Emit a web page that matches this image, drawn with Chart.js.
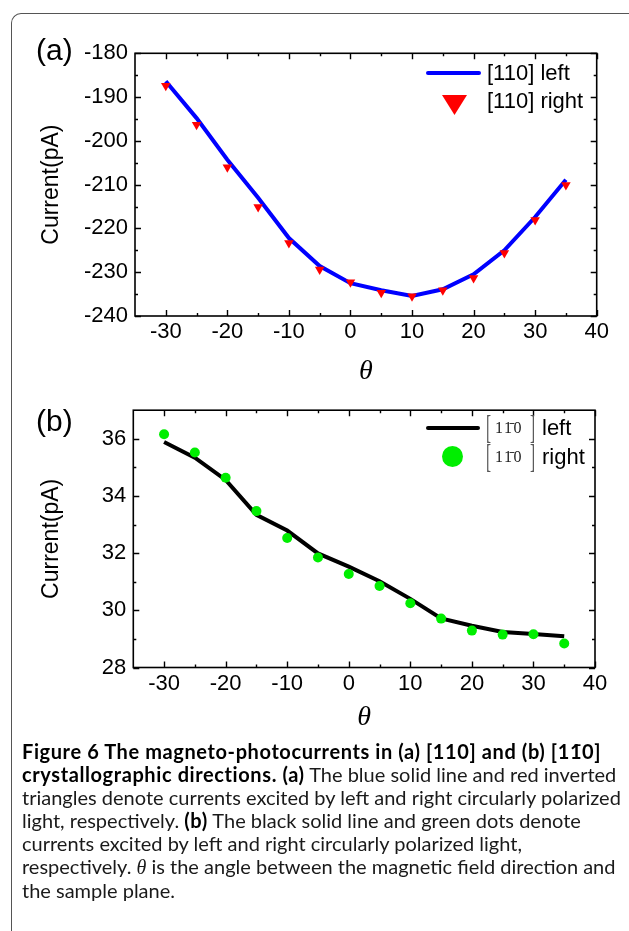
<!DOCTYPE html>
<html>
<head>
<meta charset="utf-8">
<script src="https://cdn.jsdelivr.net/npm/chart.js@4.4.1/dist/chart.umd.min.js"></script>
<style>
html,body{margin:0;padding:0;background:#fff;}
body{width:629px;height:931px;position:relative;overflow:hidden;font-family:"Liberation Sans",Arial,sans-serif;color:#000;}
.frame{position:absolute;left:11px;top:13px;width:700px;height:1000px;border-left:1.5px solid #555;border-top:1.5px solid #555;border-top-left-radius:10px;box-sizing:border-box;}
canvas{position:absolute;left:0;}
.plabel{position:absolute;left:36px;font-size:30px;line-height:34px;}
.leg{position:absolute;font-size:22px;line-height:26px;white-space:nowrap;}
.sym{position:absolute;}
.br{position:absolute;font-family:"Liberation Serif",serif;font-size:34px;line-height:34px;color:#555;transform:scaleX(0.45);transform-origin:left center;}
.mi{position:absolute;font-family:"Liberation Serif",serif;font-size:16px;line-height:18px;letter-spacing:1.5px;color:#222;}
.caption{position:absolute;left:22px;top:740px;font-family:Lato,"Open Sans",sans-serif;font-size:20px;line-height:23px;color:#1a1a1a;white-space:nowrap;}
.caption b{color:#000;letter-spacing:0.6px;}
.caption i{font-family:"Liberation Serif",serif;}
</style>
</head>
<body>
<div class="frame"></div>
<canvas id="chartA" width="629" height="390" style="top:0"></canvas>
<canvas id="chartB" width="629" height="350" style="top:390px"></canvas>

<div class="plabel" style="top:33px">(a)</div>
<div class="plabel" style="top:404px">(b)</div>

<!-- legend (a) -->
<div class="sym" style="left:426px;top:71px;width:55px;height:4px;background:#0000ff;border-radius:2px"></div>
<div class="leg" style="left:487px;top:60px">[110] left</div>
<svg class="sym" style="left:442px;top:95px" width="25" height="20"><polygon points="0,0 25,0 12.5,20" fill="#ff0000"/></svg>
<div class="leg" style="left:487px;top:88px">[110] right</div>

<!-- legend (b) -->
<div class="sym" style="left:426px;top:426px;width:54px;height:4px;background:#000;border-radius:2px"></div>
<div class="br" style="left:486px;top:410px">[</div>
<div class="mi" style="left:495px;top:419px">11&#772;0</div>
<div class="br" style="left:530px;top:410px">]</div>
<div class="leg" style="left:542px;top:415px">left</div>
<div class="sym" style="left:442px;top:446px;width:21px;height:21px;border-radius:50%;background:#00ee00"></div>
<div class="br" style="left:486px;top:439px">[</div>
<div class="mi" style="left:495px;top:448px">11&#772;0</div>
<div class="br" style="left:530px;top:439px">]</div>
<div class="leg" style="left:542px;top:444px">right</div>

<div class="caption">
<b>Figure 6 The magneto-photocurrents in (a) [110] and (b) [11&#772;0]</b><br>
<b>crystallographic directions. (a)</b> The blue solid line and red inverted<br>
triangles denote currents excited by left and right circularly polarized<br>
light, respectively. <b>(b)</b> The black solid line and green dots denote<br>
currents excited by left and right circularly polarized light,<br>
respectively. <i>θ</i> is the angle between the magnetic field direction and<br>
the sample plane.
</div>

<script>
// ---- data ----
const THETA = [-30, -25, -20, -15, -10, -5, 0, 5, 10, 15, 20, 25, 30, 35];

// panel (a): [110]
const LEFT_110  = [-186.4, -194.8, -204.3, -213.0, -222.2, -228.6, -232.5, -234.1, -235.4, -233.9, -230.5, -225.0, -217.4, -208.9];
const RIGHT_110 = [-187.4, -196.3, -206.0, -215.1, -223.3, -229.4, -232.3, -234.7, -235.5, -234.1, -231.3, -225.6, -218.1, -210.1];

// panel (b): [1-10]
const LEFT_1M10  = [35.89, 35.34, 34.56, 33.34, 32.79, 31.99, 31.53, 31.02, 30.40, 29.72, 29.46, 29.24, 29.17, 29.09];
const RIGHT_1M10 = [36.16, 35.52, 34.64, 33.47, 32.53, 31.85, 31.27, 30.85, 30.25, 29.71, 29.29, 29.15, 29.16, 28.84];

// tick labels
const X_TICKS   = [-30, -20, -10, 0, 10, 20, 30, 40];
const Y_TICKS_A = [-240, -230, -220, -210, -200, -190, -180];
const Y_TICKS_B = [28, 30, 32, 34, 36];

const X_RANGE = [-35, 40];
const Y_RANGE_A = [-240, -180];
const Y_RANGE_B = [28, 37];

// ---- helpers ----
const pts = (xs, ys) => xs.map((x, i) => ({x, y: ys[i]}));
const mids = arr => arr.slice(1).map((v, i) => (v + arr[i]) / 2);

const boxTicks = {
  id: 'boxTicks',
  afterDatasetsDraw(chart) {
    const {ctx, chartArea: a, scales: {x, y}} = chart;
    ctx.save();
    ctx.strokeStyle = '#000';
    ctx.lineWidth = 1.6;
    ctx.strokeRect(a.left, a.top, a.right - a.left, a.bottom - a.top);
    const xs = x.ticks.map(t => t.value);
    const ys = y.ticks.map(t => t.value);
    const drawX = (vals, len) => vals.forEach(v => {
      const p = Math.round(x.getPixelForValue(v)) + 0.5;
      ctx.beginPath();
      ctx.moveTo(p, a.bottom); ctx.lineTo(p, a.bottom - len);
      ctx.moveTo(p, a.top); ctx.lineTo(p, a.top + len);
      ctx.stroke();
    });
    const drawY = (vals, len) => vals.forEach(v => {
      const p = Math.round(y.getPixelForValue(v)) + 0.5;
      ctx.beginPath();
      ctx.moveTo(a.left, p); ctx.lineTo(a.left + len, p);
      ctx.moveTo(a.right, p); ctx.lineTo(a.right - len, p);
      ctx.stroke();
    });
    ctx.lineWidth = 1.4;
    drawX(xs, 6); drawX(mids(xs), 3);
    drawY(ys, 6); drawY(mids(ys), 3);
    ctx.restore();
  }
};

function makeChart(id, o) {
  return new Chart(document.getElementById(id), {
    type: 'line',
    data: {datasets: o.datasets},
    options: {
      responsive: false,
      devicePixelRatio: 1,
      animation: false,
      events: [],
      layout: {padding: {left: 0, right: o.padRight, top: o.padTop, bottom: 0}},
      plugins: {legend: {display: false}, tooltip: {enabled: false}},
      scales: {
        x: {
          type: 'linear', min: X_RANGE[0], max: X_RANGE[1],
          afterBuildTicks: s => { s.ticks = X_TICKS.map(v => ({value: v})); },
          afterFit: s => { s.height = o.xHeight; },
          grid: {display: false, drawTicks: false},
          border: {display: false},
          ticks: {font: {family: 'Liberation Sans', size: 22}, color: '#000', padding: 3, maxRotation: 0, autoSkip: false},
          title: {display: true, text: 'θ', color: '#000',
                  font: {family: 'Liberation Serif', size: 28, style: 'italic'},
                  padding: {top: 0, bottom: o.titlePadB}}
        },
        y: {
          type: 'linear', min: o.yRange[0], max: o.yRange[1],
          afterBuildTicks: s => { s.ticks = o.yTicks.map(v => ({value: v})); },
          afterFit: s => { s.width = o.yWidth; },
          grid: {display: false, drawTicks: false},
          border: {display: false},
          ticks: {font: {family: 'Liberation Sans', size: 22}, color: '#000', padding: 7, autoSkip: false},
          title: {display: true, text: 'Current(pA)', color: '#000',
                  font: {family: 'Liberation Sans', size: 23},
                  padding: {top: 38, bottom: 0}}
        }
      }
    },
    plugins: [boxTicks]
  });
}

makeChart('chartA', {
  padTop: 53.3, padRight: 32.3, xHeight: 74, yWidth: 135, titlePadB: 1.2,
  yRange: Y_RANGE_A, yTicks: Y_TICKS_A,
  datasets: [
    {label: '[110] left', data: pts(THETA, LEFT_110), borderColor: '#0000ff', borderWidth: 4,
     pointRadius: 0, tension: 0, fill: false, order: 1},
    {label: '[110] right', data: pts(THETA, RIGHT_110), showLine: false, pointStyle: 'triangle',
     rotation: 180, pointRadius: 5.5, backgroundColor: '#ff0000', borderColor: '#ff0000', borderWidth: 0, order: 0}
  ]
});

makeChart('chartB', {
  padTop: 12.7, padRight: 34, xHeight: 72.5, yWidth: 133.3, titlePadB: 5.2,
  yRange: Y_RANGE_B, yTicks: Y_TICKS_B,
  datasets: [
    {label: '[1-10] left', data: pts(THETA, LEFT_1M10), borderColor: '#000000', borderWidth: 4,
     pointRadius: 0, tension: 0, fill: false, order: 1},
    {label: '[1-10] right', data: pts(THETA, RIGHT_1M10), showLine: false, pointStyle: 'circle',
     pointRadius: 5, backgroundColor: '#00ee00', borderColor: '#00ee00', borderWidth: 0, order: 0}
  ]
});
</script>
</body>
</html>
